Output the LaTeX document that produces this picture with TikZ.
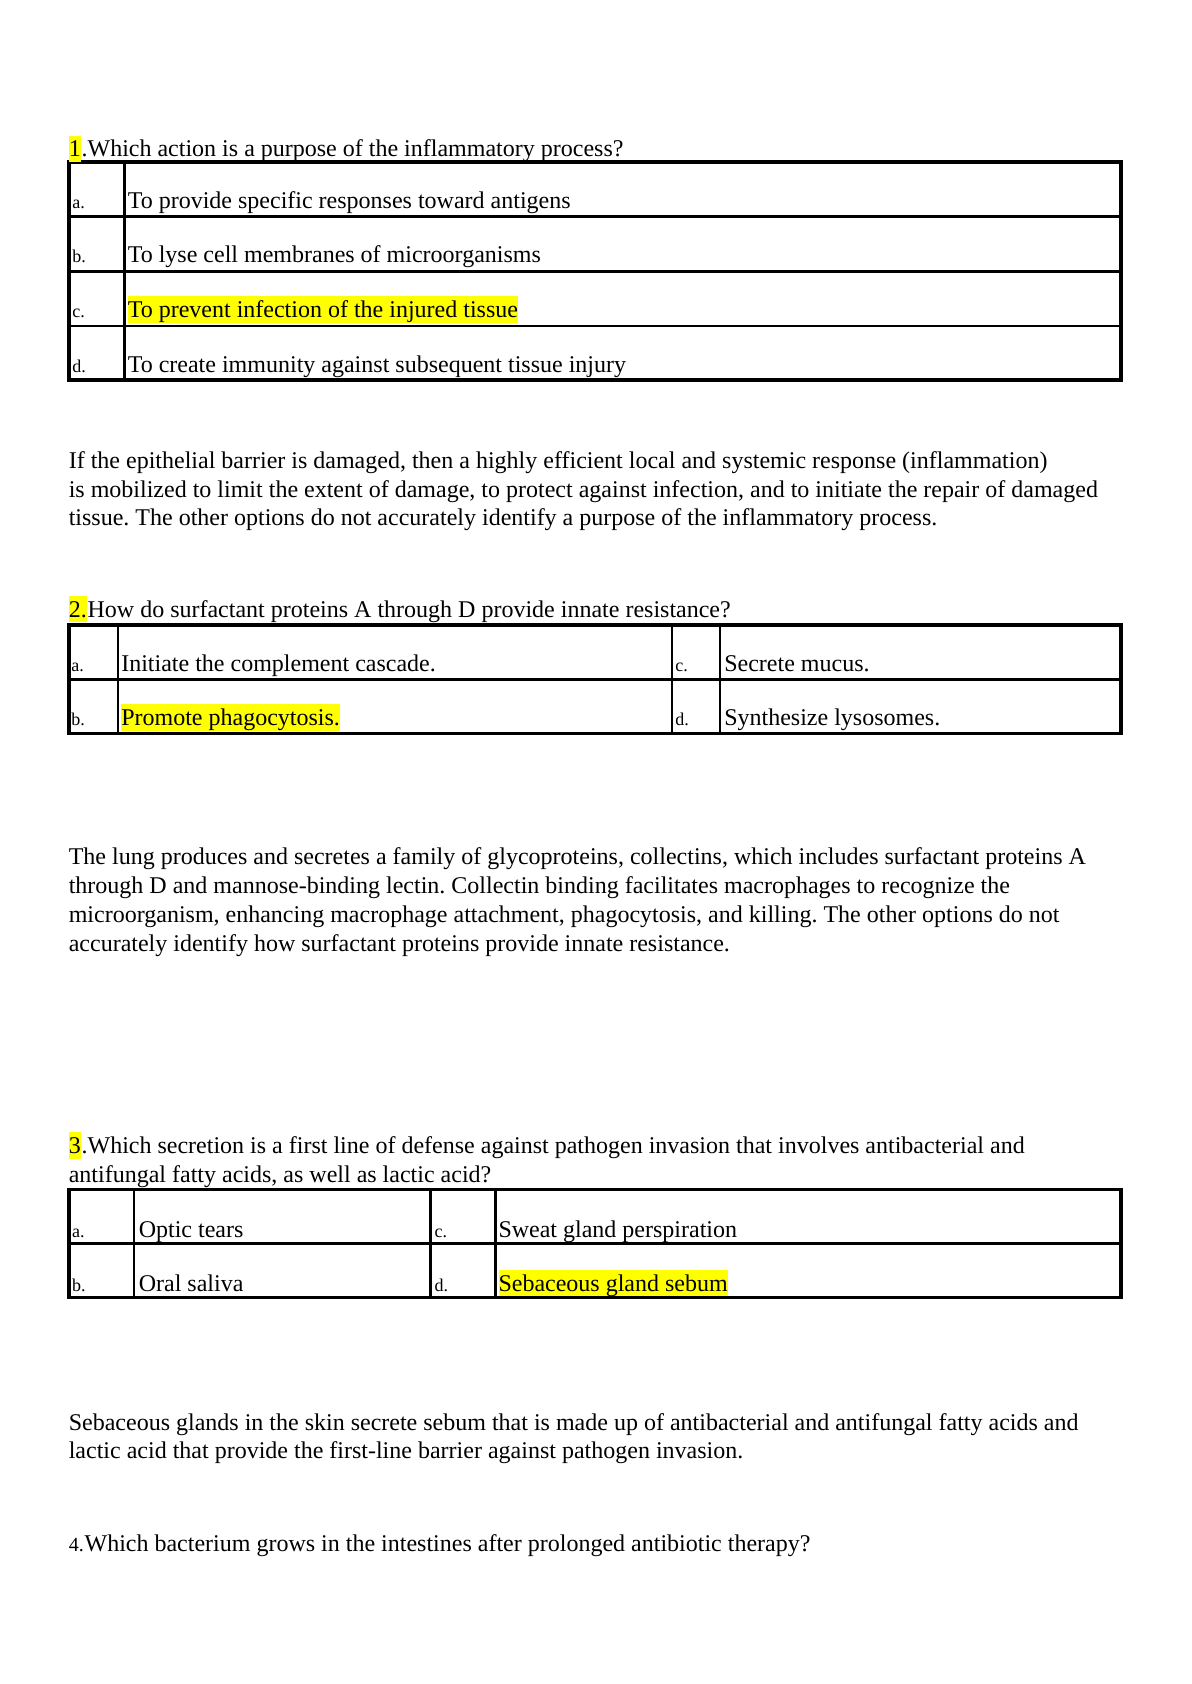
\documentclass[tikz,border=0pt]{standalone}
\usepackage{fontspec}
\setmainfont{Liberation Serif}
\frenchspacing
\definecolor{hly}{RGB}{255,255,0}
\tikzset{
  txt/.style={anchor=base west, inner sep=0pt, font=\fontsize{12}{14}\selectfont},
  lbl/.style={anchor=base west, inner sep=0pt, font=\fontsize{9}{11}\selectfont},
  hl/.style={txt, fill=hly, text height=10.7pt, text depth=2.6pt},
  outerline/.style={line width=1.8pt},
  innerline/.style={line width=1.4pt},
}
\begin{document}
\begin{tikzpicture}[x=0.5pt,y=-0.5pt]
\useasboundingbox[fill=white] (0,0) rectangle (1191,1684);

% ---------- table rules ----------
\draw[innerline] (69,216.7) -- (1121,216.7);
\draw[innerline] (69,271.7) -- (1121,271.7);
\draw[innerline] (69,326) -- (1121,326);
\draw[innerline] (124.5,162) -- (124.5,380);
\draw[outerline] (69,162) rectangle (1121,380);

\draw[innerline] (69,679.3) -- (1121,679.3);
\draw[innerline] (118,625) -- (118,733.3);
\draw[innerline] (672,625) -- (672,733.3);
\draw[innerline] (720,625) -- (720,733.3);
\draw[outerline] (69,625) rectangle (1121,733.3);

\draw[innerline] (69,1243.3) -- (1121,1243.3);
\draw[innerline] (134,1189.3) -- (134,1297.3);
\draw[innerline] (430.5,1189.3) -- (430.5,1297.3);
\draw[innerline] (495.5,1189.3) -- (495.5,1297.3);
\draw[outerline] (69,1189.3) rectangle (1121,1297.3);

\begin{scope}[yshift=-1pt,xshift=-0.3pt]
% ---------- Question 1 ----------
\node[hl] (q1n) at (69,155) {1};
\node[txt] (q1t) at (q1n.base east) {.Which action is a purpose of the inflammatory process?};
\node[lbl] (q1la) at (72.5,206.5) {a.};
\node[txt] (q1a) at (128,206.5) {To provide specific responses toward antigens};
\node[lbl] (q1lb) at (72.5,261) {b.};
\node[txt] (q1b) at (128,261) {To lyse cell membranes of microorganisms};
\node[lbl] (q1lc) at (72.5,315.7) {c.};
\node[hl] (q1c) at (128,315.7) {To prevent infection of the injured tissue};
\node[lbl] (q1ld) at (72.5,370.3) {d.};
\node[txt] (q1d) at (128,370.3) {To create immunity against subsequent tissue injury};

\node[txt] (p1a) at (69,466.5) {If the epithelial barrier is damaged, then a highly efficient local and systemic response (inflammation)};
\node[txt] (p1b) at (69,495) {is mobilized to limit the extent of damage, to protect against infection, and to initiate the repair of damaged};
\node[txt] (p1c) at (69,523.5) {tissue. The other options do not accurately identify a purpose of the inflammatory process.};

% ---------- Question 2 ----------
\node[hl] (q2n) at (69,615) {2.};
\node[txt] (q2t) at (q2n.base east) {How do surfactant proteins A through D provide innate resistance?};
\node[lbl] (q2la) at (71.5,669) {a.};
\node[txt] (q2a) at (121.5,669) {Initiate the complement cascade.};
\node[lbl] (q2lb) at (71.5,723.5) {b.};
\node[hl] (q2b) at (121.5,723.5) {Promote phagocytosis.};
\node[lbl] (q2lc) at (675.5,669) {c.};
\node[txt] (q2c) at (724.5,669) {Secrete mucus.};
\node[lbl] (q2ld) at (675.5,723.5) {d.};
\node[txt] (q2d) at (724.5,723.5) {Synthesize lysosomes.};

\node[txt] (p2a) at (69,862.7) {The lung produces and secretes a family of glycoproteins, collectins, which includes surfactant proteins A};
\node[txt] (p2b) at (69,891.6) {through D and mannose-binding lectin. Collectin binding facilitates macrophages to recognize the};
\node[txt] (p2c) at (69,920.6) {microorganism, enhancing macrophage attachment, phagocytosis, and killing. The other options do not};
\node[txt] (p2d) at (69,949.6) {accurately identify how surfactant proteins provide innate resistance.};

% ---------- Question 3 ----------
\node[hl] (q3n) at (69,1151.5) {3};
\node[txt] (q3t) at (q3n.base east) {.Which secretion is a first line of defense against pathogen invasion that involves antibacterial and};
\node[txt] (q3t2) at (69,1180) {antifungal fatty acids, as well as lactic acid?};
\node[lbl] (q3la) at (72.3,1235) {a.};
\node[txt] (q3a) at (139,1235) {Optic tears};
\node[lbl] (q3lb) at (72.3,1289) {b.};
\node[txt] (q3b) at (139,1289) {Oral saliva};
\node[lbl] (q3lc) at (434.8,1235) {c.};
\node[txt] (q3c) at (498.7,1235) {Sweat gland perspiration};
\node[lbl] (q3ld) at (434.8,1289) {d.};
\node[hl] (q3d) at (498.7,1289) {Sebaceous gland sebum};

\node[txt] (p3a) at (69,1428) {Sebaceous glands in the skin secrete sebum that is made up of antibacterial and antifungal fatty acids and};
\node[txt] (p3b) at (69,1456.5) {lactic acid that provide the first-line barrier against pathogen invasion.};

% ---------- Question 4 ----------
\node[anchor=base west, inner sep=0pt, font=\fontsize{10}{12}\selectfont] (q4n) at (69,1549) {4.};
\node[txt] (q4t) at (q4n.base east) {Which bacterium grows in the intestines after prolonged antibiotic therapy?};
\end{scope}
\end{tikzpicture}
\end{document}
